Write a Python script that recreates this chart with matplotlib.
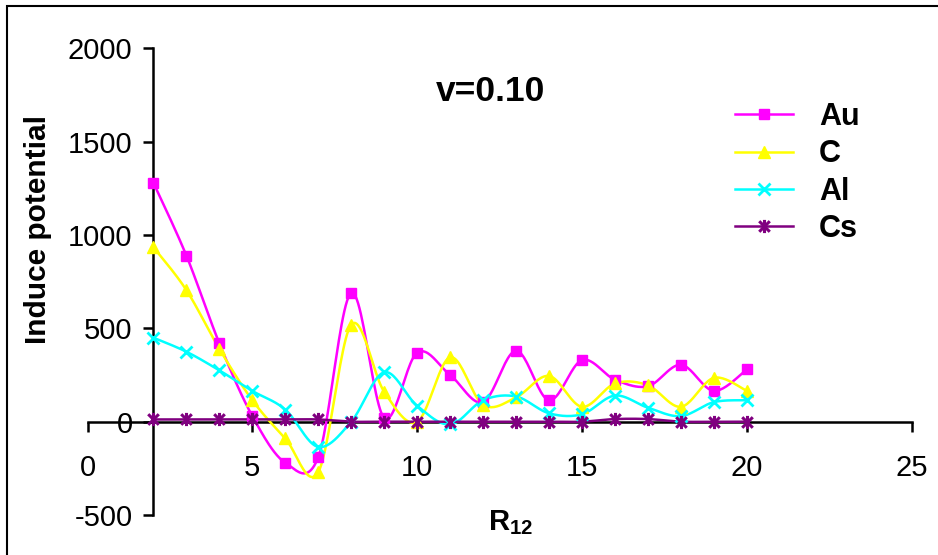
import numpy as np
import matplotlib
matplotlib.use("Agg")
import matplotlib.pyplot as plt
from matplotlib.path import Path
from matplotlib.lines import Line2D
from matplotlib.patches import Rectangle

plt.rcParams['font.family'] = ['Liberation Sans', 'DejaVu Sans']
plt.rcParams['mathtext.fontset'] = 'custom'
plt.rcParams['mathtext.rm'] = 'Liberation Sans'
plt.rcParams['mathtext.bf'] = 'Liberation Sans:bold'

# ---- data ----
r12 = [2, 3, 4, 5, 6, 7, 8, 9, 10, 11, 12, 13, 14, 15, 16, 17, 18, 19, 20]
au = [1280, 890, 420, 30, -220, -190, 690, 20, 370, 250, 105, 380, 115, 330, 225, 190, 305, 165, 280]
c = [935, 705, 390, 115, -90, -270, 520, 160, 0, 345, 90, 130, 245, 80, 205, 195, 80, 235, 165]
al = [450, 375, 275, 165, 65, -135, 0, 265, 85, -15, 115, 135, 45, 40, 140, 75, 30, 105, 115]
cs = [12, 12, 12, 12, 12, 12, 0, 0, 0, 0, 0, 0, 0, 0, 14, 14, 0, 0, 0]
series_names = ['Au', 'C', 'Al', 'Cs']
x_ticks = [0, 5, 10, 15, 20, 25]
y_ticks = [-500, 0, 500, 1000, 1500, 2000]
title_text = 'v=0.10'


def smooth(xs, ys, n=24):
    """Excel-style smoothed line (uniform Catmull-Rom / Bezier with 1/6 control points)."""
    p = np.column_stack([xs, ys]).astype(float)
    p = np.vstack([p[0], p, p[-1]])
    out = []
    t = np.linspace(0, 1, n, endpoint=False)
    for i in range(1, len(p) - 2):
        p0, p1, p2, p3 = p[i - 1], p[i], p[i + 1], p[i + 2]
        c1 = p1 + (p2 - p0) / 6.0
        c2 = p2 - (p3 - p1) / 6.0
        tt = t[:, None]
        seg = ((1 - tt) ** 3) * p1 + 3 * ((1 - tt) ** 2) * tt * c1 + 3 * (1 - tt) * tt ** 2 * c2 + tt ** 3 * p2
        out.append(seg)
    out.append(p[-2][None, :])
    out = np.vstack(out)
    return out[:, 0], out[:, 1]


asterisk = Path([(0, -1), (0, 1), (-0.8, -0.8), (0.8, 0.8), (-0.8, 0.8), (0.8, -0.8)],
                [Path.MOVETO, Path.LINETO, Path.MOVETO, Path.LINETO, Path.MOVETO, Path.LINETO])

styles = [
    dict(color='#FF00FF', marker='s', ms=7.5, mew=1),
    dict(color='#FFFF00', marker='^', ms=9, mew=1),
    dict(color='#00FFFF', marker='x', ms=8.5, mew=2),
    dict(color='#800080', marker=asterisk, ms=9.5, mew=2.2),
]

W, H = 938, 555
fig = plt.figure(figsize=(W / 100, H / 100), dpi=100)
left, right = 87.5 / W, 911.7 / W
top, bottom = 1 - 48.5 / H, 1 - 515 / H
ax = fig.add_axes([left, bottom, right - left, top - bottom])
ax.set_xlim(0, 25)
ax.set_ylim(-500, 2000)

handles = []
for ys, st, name in zip([au, c, al, cs], styles, series_names):
    sx, sy = smooth(r12, ys)
    ax.plot(sx, sy, color=st['color'], lw=1.8, zorder=3)
    ax.plot(r12, ys, linestyle='none', marker=st['marker'], ms=st['ms'],
            mfc=st['color'], mec=st['color'], mew=st['mew'], zorder=4)
    handles.append(Line2D([], [], color=st['color'], lw=1.8, marker=st['marker'],
                          ms=st['ms'], mfc=st['color'], mec=st['color'], mew=st['mew'], label=name))

ax.spines['top'].set_visible(False)
ax.spines['right'].set_visible(False)
ax.spines['left'].set_position(('data', 2))
ax.spines['bottom'].set_position(('data', 0))
for s in ['left', 'bottom']:
    ax.spines[s].set_linewidth(1.8)
    ax.spines[s].set_zorder(2)

ax.set_xticks(x_ticks)
ax.set_yticks(y_ticks)
ax.set_xticklabels([str(v) for v in x_ticks])
ax.set_yticklabels([str(v) for v in y_ticks])
ax.tick_params(axis='both', direction='out', length=7, width=1.8, labelsize=21, colors='black')
ax.tick_params(axis='x', pad=16)
ax.tick_params(axis='y', pad=8)
ax.set_facecolor('none')

ax.text(12.24, 1767, title_text, fontsize=25.5, fontweight='bold', ha='center', va='center')

fig.text(37.5 / W, 1 - 230 / H, 'Induce potential', rotation=90, fontsize=21.5,
         fontweight='bold', ha='center', va='center')
fig.text(511 / W, 1 - 523 / H, r'$\mathbf{R}_{\mathbf{12}}$', fontsize=21, ha='center', va='center')

leg = ax.legend(handles=handles, loc='upper left', bbox_to_anchor=(735 / W, 1 - 102 / H),
                bbox_transform=fig.transFigure, frameon=False, borderpad=0, borderaxespad=0,
                handlelength=1.9, handletextpad=0.85, labelspacing=0.24,
                prop={'family': 'Liberation Sans', 'weight': 'bold', 'size': 22})

fig.patches.append(Rectangle((7 / W, -0.2), 1.2, 1 - 6 / H + 0.2, transform=fig.transFigure,
                             fill=False, edgecolor='black', lw=1.5, figure=fig))

fig.savefig('out.png', dpi=100)
